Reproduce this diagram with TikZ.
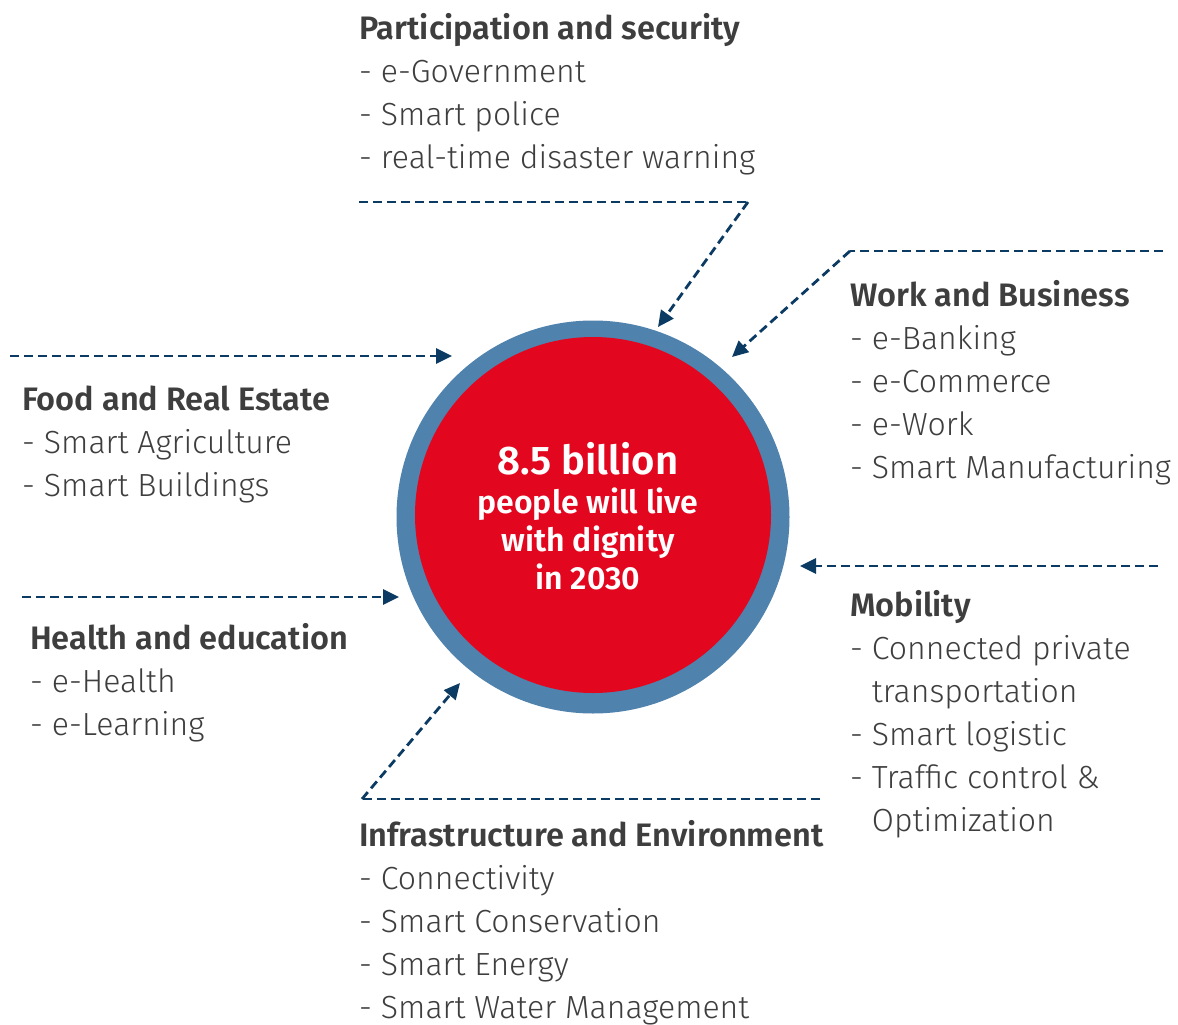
\documentclass[tikz,border=0pt]{standalone}
\usepackage{fontspec}
\setmainfont{Fira Sans}[UprightFont={* Light},BoldFont={* SemiBold}]
\usetikzlibrary{arrows.meta}
\definecolor{ringblue}{HTML}{4F82AD}
\definecolor{corered}{HTML}{E2071F}
\definecolor{navy}{HTML}{0B3A63}
\definecolor{txtgray}{HTML}{3E3E3E}
\newcommand\firstln{\rule{0pt}{30pt}}
\newcommand\hd[1]{{\fontsize{32.5}{43}\selectfont\bfseries #1}}
\begin{document}
\begin{tikzpicture}[x=1pt,y=-1pt,
  blk/.style={anchor=north west,inner sep=0pt,align=left,text=txtgray,
    font=\fontsize{32}{43}\selectfont},
  ctr/.style={anchor=base,inner sep=0pt,text=white,font=\fontsize{32}{38}\selectfont\bfseries},
  conn/.style={navy,line width=2.8pt,dash pattern=on 9pt off 5pt,
    -{Triangle[length=16pt,width=15pt]}},
  plain/.style={navy,line width=2.8pt,dash pattern=on 9pt off 5pt}]
\useasboundingbox (0,0) rectangle (1178,1025);
% circle
\node[circle,fill=ringblue,minimum size=393pt,inner sep=0pt] (ring) at (593,517) {};
\node[circle,fill=corered,minimum size=356pt,inner sep=0pt] (core) at (593,515) {};
\node[ctr,font=\fontsize{40}{40}\selectfont\bfseries] (c1) at (588,474) {8.5 billion};
\node[ctr] (c2) at (588,513) {people will live};
\node[ctr] (c3) at (588,551) {with dignity};
\node[ctr] (c4) at (588,589) {in 2030};
% text blocks (top = first baseline - 30)
\node[blk] (ps) at (359,9) {\firstln\hd{Participation and security}\\- e-Government\\- Smart police\\- real-time disaster warning};
\node[blk] (wb) at (850,276) {\firstln\hd{Work and Business}\\- e-Banking\\- e-Commerce\\- e-Work\\- Smart Manufacturing};
\node[blk] (fr) at (22,380) {\firstln\hd{Food and Real Estate}\\- Smart Agriculture\\- Smart Buildings};
\node[blk] (he) at (30,619) {\firstln\hd{Health and education}\\- e-Health\\- e-Learning};
\node[blk] (mo) at (850,586) {\firstln\hd{Mobility}\\- Connected private\\\hphantom{- }transportation\\- Smart logistic\\- Traffic control \&\\\hphantom{- }Optimization};
\node[blk] (ie) at (359,816) {\firstln\hd{Infrastructure and Environment}\\- Connectivity\\- Smart Conservation\\- Smart Energy\\- Smart Water Management};
% connector coordinates
\coordinate (psA) at (359,202); \coordinate (psB) at (748,202); \coordinate (psT) at (658,327);
\coordinate (wbA) at (1163,251); \coordinate (wbB) at (850,251); \coordinate (wbT) at (732,357);
\coordinate (frA) at (10,356); \coordinate (frT) at (452,356);
\coordinate (heA) at (22,597); \coordinate (heT) at (399,597);
\coordinate (moA) at (1158,566); \coordinate (moT) at (800,566);
\coordinate (ieA) at (820,799); \coordinate (ieB) at (362,799); \coordinate (ieT) at (460,683);
% connectors
\draw[plain] (psA) -- (psB);
\draw[conn] (psB) -- (psT);
\draw[plain] (wbA) -- (wbB);
\draw[conn] (wbB) -- (wbT);
\draw[conn] (frA) -- (frT);
\draw[conn] (heA) -- (heT);
\draw[conn] (moA) -- (moT);
\draw[plain] (ieA) -- (ieB);
\draw[conn] (ieB) -- (ieT);
\end{tikzpicture}
\end{document}
